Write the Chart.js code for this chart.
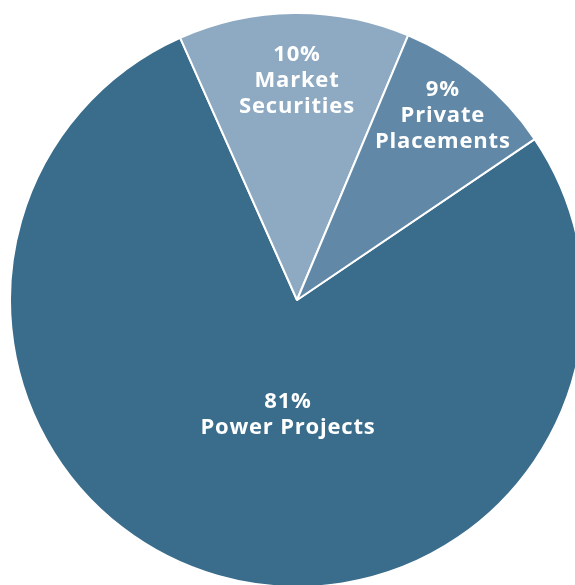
<!DOCTYPE html>
<html>
<head>
<meta charset="utf-8">
<script src="https://cdn.jsdelivr.net/npm/chart.js@4"></script>
<style>
  html, body { margin: 0; padding: 0; background: #fff; overflow: hidden; }
  body { width: 575px; height: 585px; position: relative; }
  #wrap { position: absolute; left: 9px; top: 12px; width: 576px; height: 576px; }
</style>
</head>
<body>
<div id="wrap"><canvas id="chart"></canvas></div>
<script>
// ---------- data ----------
const categories = ['Power Projects', 'Market Securities', 'Private Placements'];
const pctLabels  = ['81%', '10%', '9%'];
const sliceValues = [77.8, 13.0, 9.2];
const labelLines = [
    ['81%', 'Power Projects'],
    ['10%', 'Market', 'Securities'],
    ['9%', 'Private', 'Placements']
];

// ---------- style ----------
const colors = ['#3a6c8c', '#8eaac3', '#6189a7'];
// label anchor per slice: [angle from top in degrees, fraction of radius]
const labelAnchor = [[184.5, 0.402], [0, 0.763], [38.4, 0.818]];

const labelPlugin = {
    id: 'sliceLabels',
    afterDraw(chart) {
        const meta = chart.getDatasetMeta(0);
        const c = chart.ctx;
        c.save();
        c.fillStyle = '#fff';
        c.font = 'bold 22px "Open Sans"';
        c.letterSpacing = '0.8px';
        c.textAlign = 'center';
        c.textBaseline = 'middle';
        const lh = 26;
        meta.data.forEach((arc, i) => {
            const a = (labelAnchor[i][0] - 90) * Math.PI / 180;
            const r = arc.outerRadius * labelAnchor[i][1];
            const cx = arc.x + Math.cos(a) * r;
            const cy = arc.y + Math.sin(a) * r;
            const lines = labelLines[i];
            lines.forEach((line, j) => {
                c.fillText(line, cx, cy + (j - (lines.length - 1) / 2) * lh);
            });
        });
        c.restore();
    }
};

const ctx = document.getElementById('chart').getContext('2d');
new Chart(ctx, {
    type: 'pie',
    data: {
        labels: categories,
        datasets: [{
            data: sliceValues,
            backgroundColor: colors,
            borderColor: '#fff',
            borderWidth: 2
        }]
    },
    options: {
        responsive: true,
        maintainAspectRatio: false,
        animation: false,
        rotation: 55.9,
        layout: { padding: 0 },
        plugins: {
            legend: { display: false },
            tooltip: { enabled: false }
        }
    },
    plugins: [labelPlugin]
});
</script>
</body>
</html>
